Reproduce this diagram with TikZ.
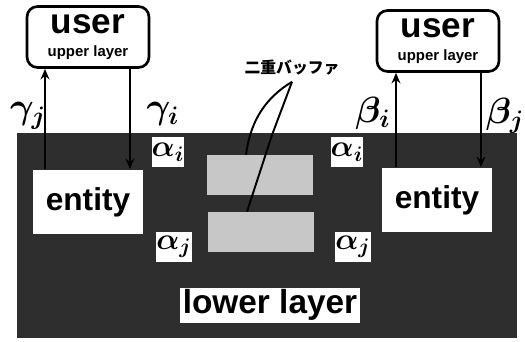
\documentclass[tikz,border=0pt]{standalone}
\usepackage{amsmath,amssymb}
\usepackage{fontspec}
\setmainfont{Liberation Sans}
\newfontfamily\jpfont{Noto Sans CJK JP}
\usetikzlibrary{arrows.meta}

\begin{document}
\begin{tikzpicture}[x={(0.02cm,0cm)}, y={(0cm,-0.02cm)},
  user/.style={draw,line width=1.5pt,rounded corners=6pt,fill=white,align=center,
    minimum width=2.44cm,minimum height=1.22cm,inner sep=0pt},
  entity/.style={fill=white,minimum width=2.22cm,minimum height=1.3cm,inner sep=0pt,
    font=\fontsize{18}{18}\selectfont\bfseries},
  buffer/.style={fill=black!22,minimum width=2.14cm,minimum height=0.8cm},
  alpha/.style={fill=white,minimum width=0.64cm,minimum height=0.6cm,inner sep=0pt,
    font=\fontsize{17}{17}\selectfont},
  greek/.style={font=\fontsize{21}{21}\selectfont},
  sig/.style={line width=1.7pt,-{Stealth[length=6pt,width=5pt]}}]
  \useasboundingbox (0,0) rectangle (525,342);

  % lower layer
  \fill[black!82] (17,133) rectangle (517,338);

  % Nodes
  \node[user] (userL) at (88,37) {{\fontsize{20}{20}\selectfont\bfseries user}\\[1pt]
    {\fontsize{8.5}{9}\selectfont\bfseries upper layer}};
  \node[user] (userR) at (438,41) {{\fontsize{20}{20}\selectfont\bfseries user}\\[1pt]
    {\fontsize{8.5}{9}\selectfont\bfseries upper layer}};

  \node[entity] (entL) at (88,202) {entity};
  \node[entity] (entR) at (437,200) {entity};

  \node[buffer] (bufU) at (260,175) {};
  \node[buffer] (bufD) at (261,232) {};

  \node[alpha] (aUL) at (168,152) {$\boldsymbol{\alpha_i}$};
  \node[alpha] (aUR) at (347,152) {$\boldsymbol{\alpha_i}$};
  \node[alpha] (aDL) at (174,247) {$\boldsymbol{\alpha_j}$};
  \node[alpha] (aDR) at (353,247) {$\boldsymbol{\alpha_j}$};

  \node[fill=white,minimum width=3.6cm,minimum height=0.7cm,inner sep=0pt,
    font=\fontsize{19}{19}\selectfont\bfseries] (lower) at (270,305) {lower layer};

  \node[font=\jpfont\bfseries\fontsize{9}{9}\selectfont] (dbuf) at (292,68) {二重バッファ};

  \node[greek] (gj) at (28,116) {$\boldsymbol{\gamma_j}$};
  \node[greek] (gi) at (163,114) {$\boldsymbol{\gamma_i}$};
  \node[greek] (bi) at (373,113) {$\boldsymbol{\beta_i}$};
  \node[greek] (bj) at (505,116) {$\boldsymbol{\beta_j}$};

  \coordinate (xgj) at (45,0);
  \coordinate (xgi) at (130,0);
  \coordinate (xbi) at (396,0);
  \coordinate (xbj) at (481,0);

  % Edges
  \draw[sig] (entL.north -| xgj) -- (userL.south -| xgj);
  \draw[sig] (userL.south -| xgi) -- (entL.north -| xgi);
  \draw[sig] (entR.north -| xbi) -- (userR.south -| xbi);
  \draw[sig] (userR.south -| xbj) -- (entR.north -| xbj);

  \draw[line width=1.1pt] (dbuf.south) .. controls (262,100) and (250,125) .. (bufU.north -| 246,0);
  \draw[line width=1.1pt] (dbuf.south) -- (272,135) -- (bufD.north -| 247,0);
\end{tikzpicture}
\end{document}
